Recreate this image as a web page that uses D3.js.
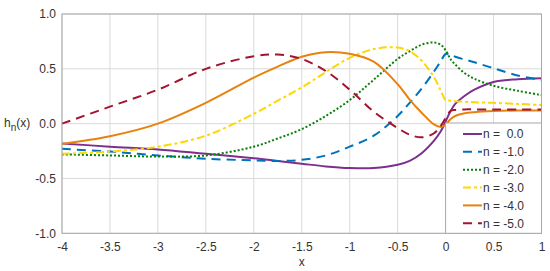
<!DOCTYPE html>
<html>
<head>
<meta charset="utf-8">
<script src="https://cdn.jsdelivr.net/npm/d3@7"></script>
<style>
  html, body { margin: 0; padding: 0; background: #fff; }
  svg { display: block; font-family: "Liberation Sans", Arial, sans-serif; }
</style>
</head>
<body>
<svg id="chart" width="550" height="271"></svg>
<script>
// ---- data ----
const xValues = [-4, -3.5, -3, -2.5, -2, -1.75, -1.5, -1.25, -1, -0.75, -0.5, -0.375, -0.25, -0.125, -0.05, 0, 0.05, 0.1, 0.2, 0.3, 0.5, 0.75, 1];
const seriesNames = ["n =  0.0", "n = -1.0", "n = -2.0", "n = -3.0", "n = -4.0", "n = -5.0"];
const n0  = [-0.18, -0.21, -0.235, -0.275, -0.315, -0.34, -0.365, -0.39, -0.405, -0.405, -0.375, -0.34, -0.27, -0.16, -0.07, 0.02, 0.11, 0.18, 0.255, 0.31, 0.38, 0.405, 0.415];
const n1  = [-0.23, -0.255, -0.29, -0.32, -0.335, -0.34, -0.33, -0.29, -0.21, -0.11, 0.07, 0.19, 0.32, 0.47, 0.57, 0.635, 0.63, 0.61, 0.585, 0.56, 0.505, 0.44, 0.40];
const n2  = [-0.28, -0.29, -0.30, -0.29, -0.21, -0.135, -0.05, 0.07, 0.215, 0.40, 0.59, 0.66, 0.72, 0.74, 0.72, 0.67, 0.59, 0.54, 0.46, 0.41, 0.345, 0.30, 0.26];
const n3  = [-0.275, -0.255, -0.21, -0.11, 0.09, 0.21, 0.33, 0.47, 0.60, 0.68, 0.695, 0.66, 0.575, 0.43, 0.30, 0.215, 0.21, 0.205, 0.2, 0.195, 0.19, 0.18, 0.17];
const n4  = [-0.185, -0.115, 0.0, 0.19, 0.42, 0.52, 0.61, 0.652, 0.637, 0.565, 0.36, 0.22, 0.10, -0.005, -0.03, -0.01, 0.04, 0.07, 0.095, 0.105, 0.115, 0.12, 0.12];
const n5  = [0.0, 0.155, 0.31, 0.5, 0.615, 0.63, 0.59, 0.48, 0.31, 0.11, -0.04, -0.1, -0.125, -0.09, -0.02, 0.05, 0.115, 0.125, 0.13, 0.13, 0.13, 0.13, 0.13];
const xTicks = [-4, -3.5, -3, -2.5, -2, -1.5, -1, -0.5, 0, 0.5, 1];
const yTicks = [-1, -0.5, 0, 0.5, 1];
const yTickLabels = ["-1.0", "-0.5", "0.0", "0.5", "1.0"];

const seriesValues = [n0, n1, n2, n3, n4, n5];
const colors = ["#7E2F8E", "#0072BD", "#0A7F0A", "#FFD700", "#E8820C", "#A2142F"];
const dashes = [null, "9,6", "2,2", "8,3,3,3", null, "9,6"];

// ---- layout ----
const svg = d3.select("#chart");
const x = d3.scaleLinear().domain([-4, 1]).range([62, 541.5]);
const y = d3.scaleLinear().domain([-1, 1]).range([233.3, 14]);

// grid
const grid = svg.append("g");
grid.selectAll("line.vx").data(xTicks).join("line")
  .attr("x1", d => x(d)).attr("x2", d => x(d))
  .attr("y1", y(-1)).attr("y2", y(1))
  .attr("stroke", "#dadada").attr("stroke-width", 1);
grid.selectAll("line.hy").data(yTicks).join("line")
  .attr("y1", d => y(d)).attr("y2", d => y(d))
  .attr("x1", x(-4)).attr("x2", x(1))
  .attr("stroke", "#dadada").attr("stroke-width", 1);

// axes
const xAxis = d3.axisBottom(x).tickValues(xTicks).tickSize(0).tickPadding(9)
  .tickFormat(d => String(d));
const yAxis = d3.axisLeft(y).tickValues(yTicks).tickSize(0).tickPadding(6)
  .tickFormat((d, i) => yTickLabels[i]);

const gx = svg.append("g").attr("transform", `translate(0,${y(-1)})`).call(xAxis);
const gy = svg.append("g").attr("transform", `translate(${x(-4)},0)`).call(yAxis);
[gx, gy].forEach(g => {
  g.select(".domain").remove();
  g.selectAll("text").attr("font-size", 12).attr("fill", "#333")
    .attr("font-family", "Liberation Sans, Arial, sans-serif");
});

// curves
const line = d3.line()
  .x((d, i) => x(xValues[i]))
  .y(d => y(d))
  .curve(d3.curveCatmullRom.alpha(0.5));

const plot = svg.append("g");
seriesValues.forEach((vals, k) => {
  plot.append("path")
    .attr("d", line(vals))
    .attr("fill", "none")
    .attr("stroke", colors[k])
    .attr("stroke-width", 2)
    .attr("stroke-dasharray", dashes[k]);
});

// frame
svg.append("rect")
  .attr("x", x(-4)).attr("y", y(1))
  .attr("width", x(1) - x(-4)).attr("height", y(-1) - y(1))
  .attr("fill", "none").attr("stroke", "#a8a8a8").attr("stroke-width", 1);

// labels
svg.append("text").attr("x", (x(-4) + x(1)) / 2).attr("y", 266)
  .attr("text-anchor", "middle").attr("font-size", 12).attr("fill", "#333").text("x");
const yl = svg.append("text").attr("x", 4).attr("y", y(0) + 3)
  .attr("font-size", 12).attr("fill", "#333");
yl.append("tspan").text("h");
yl.append("tspan").attr("dy", 4).attr("font-size", 10).text("n");
yl.append("tspan").attr("dy", -4).text("(x)");

// legend
const lg = svg.append("g");
lg.append("rect").attr("x", x(0)).attr("y", 123)
  .attr("width", x(1) - x(0)).attr("height", y(-1) - 123)
  .attr("fill", "#fff").attr("stroke", "#a8a8a8").attr("stroke-width", 1);
seriesNames.forEach((name, k) => {
  const cy = 134 + k * 17.85;
  lg.append("line").attr("x1", 463).attr("x2", 482).attr("y1", cy).attr("y2", cy)
    .attr("stroke", colors[k]).attr("stroke-width", 2)
    .attr("stroke-dasharray", dashes[k]);
  lg.append("text").attr("x", 483).attr("y", cy + 4.3)
    .attr("font-size", 12).attr("fill", "#333")
    .attr("xml:space", "preserve").style("white-space", "pre").text(name);
});
</script>
</body>
</html>
